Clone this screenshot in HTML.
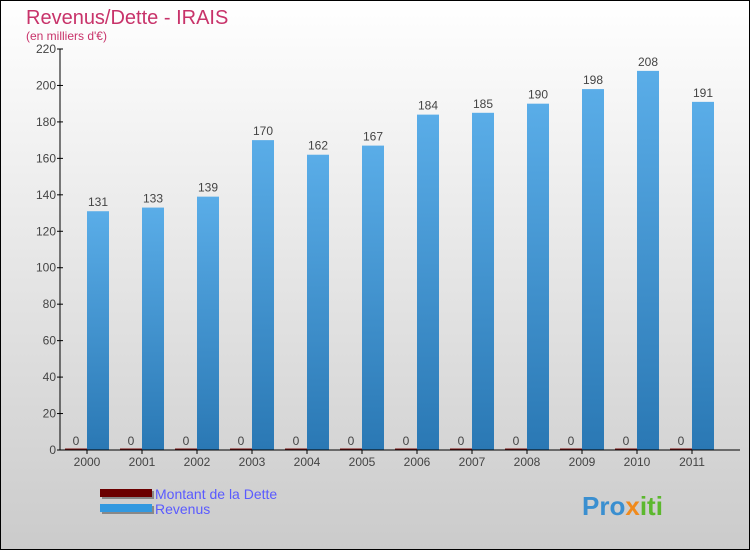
<!DOCTYPE html>
<html><head><meta charset="utf-8"><style>
body{margin:0}
svg{display:block;font-family:"Liberation Sans",sans-serif}
</style></head><body>
<svg width="750" height="550" viewBox="0 0 750 550">
<defs>
<linearGradient id="bg" x1="0" y1="0" x2="0" y2="1"><stop offset="0" stop-color="#ffffff"/><stop offset="1" stop-color="#cbcbcb"/></linearGradient>
<linearGradient id="rev" x1="0" y1="0" x2="0" y2="1"><stop offset="0" stop-color="#5aade8"/><stop offset="1" stop-color="#2a78b4"/></linearGradient>
</defs>
<rect x="0.5" y="0.5" width="749" height="549" fill="url(#bg)" stroke="#000"/>
<text x="26" y="24" font-size="20" fill="#c8336a">Revenus/Dette - IRAIS</text>
<text x="26" y="40" font-size="12" fill="#c8336a">(en milliers d'€)</text>
<g id="bars"></g>
<g id="axes"></g>
<g>
<rect x="102" y="491" width="52" height="8" fill="#888"/>
<rect x="100" y="489" width="52" height="8" fill="#6b0000"/>
<text x="155" y="499" font-size="14" fill="#5a5aff">Montant de la Dette</text>
<rect x="102" y="506" width="52" height="8" fill="#888"/>
<rect x="100" y="504" width="52" height="8" fill="#3399e0"/>
<text x="155" y="514" font-size="14" fill="#5a5aff">Revenus</text>
</g>
<text x="582" y="515" font-size="26" font-weight="bold"><tspan fill="#3a8fd0">Pro</tspan><tspan fill="#f08a1c">x</tspan><tspan fill="#5cb82e">iti</tspan></text>
</svg>
<script>
const years=["2000","2001","2002","2003","2004","2005","2006","2007","2008","2009","2010","2011"];
const debt=[0,0,0,0,0,0,0,0,0,0,0,0];
const revenue=[131,133,139,170,162,167,184,185,190,198,208,191];
const yTicks=[0,20,40,60,80,100,120,140,160,180,200,220];
const NS="http://www.w3.org/2000/svg";
const x0=60,x1=740,yBase=450,yTop=49,yMax=220;
const y=v=>yBase-(yBase-yTop)*v/yMax;
const cx=i=>87+55*i;
function mk(t,a,p){const e=document.createElementNS(NS,t);for(const k in a)e.setAttribute(k,a[k]);p.appendChild(e);return e;}
const bars=document.getElementById('bars'),axes=document.getElementById('axes');
yTicks.forEach(v=>{
 const t=mk('line',{x1:x0-3,x2:x0+3,y1:y(v),y2:y(v),stroke:'#000'},axes);
 
 
 const l=mk('text',{x:x0-4,y:y(v)+4,'font-size':12,fill:'#444','text-anchor':'end'},axes);
 l.textContent=v;
 
 
});
years.forEach((yr,i)=>{
 const c=cx(i);
 const d=mk('rect',{x:c-22,y:y(debt[i])-1.5,width:22,height:Math.max(1.5,yBase-y(debt[i])+1.5),fill:'#7a1010'},bars);
 
 
 const dl=mk('text',{x:c-11,y:y(debt[i])-5,'font-size':12,fill:'#444','text-anchor':'middle'},bars);
 dl.textContent=debt[i];
 
 
 const r=mk('rect',{x:c,y:y(revenue[i]),width:22,height:yBase-y(revenue[i]),fill:'url(#rev)'},bars);
 
 
 const rl=mk('text',{x:c+11,y:y(revenue[i])-5,'font-size':12,fill:'#444','text-anchor':'middle'},bars);
 rl.textContent=revenue[i];
 
 
 const t=mk('line',{x1:c,x2:c,y1:yBase,y2:yBase+4,stroke:'#000'},axes);
 
 
 const xl=mk('text',{x:c,y:yBase+16,'font-size':12,fill:'#444','text-anchor':'middle'},axes);
 xl.textContent=yr;
 
 
});
const ya=mk('line',{x1:x0,x2:x0,y1:yTop,y2:yBase,stroke:'#000'},axes);


const xa=mk('line',{x1:x0,x2:x1,y1:yBase,y2:yBase,stroke:'#000'},axes);


</script>
</body></html>
